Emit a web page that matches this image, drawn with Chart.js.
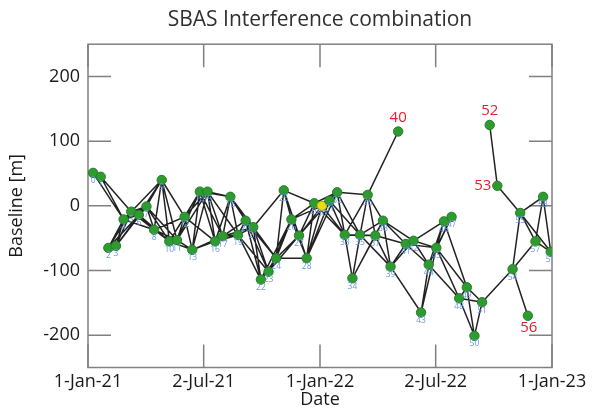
<!DOCTYPE html>
<html>
<head>
<meta charset="utf-8">
<script src="https://cdn.jsdelivr.net/npm/chart.js@4.4.1/dist/chart.umd.min.js"></script>
<style>
html,body{margin:0;padding:0;background:#fff;}
canvas{display:block;}
</style>
</head>
<body>
<canvas id="c" width="592" height="410"></canvas>
<script>
// Acquisition dates, as days since 1-Jan-2021
const acqDay = [8,20,32,44,56,68,80,92,104,116,128,140,152,164,176,188,200,212,224,236,
                248,260,272,284,296,308,320,332,344,356,368,380,392,404,416,428,440,452,464,476,
                488,500,512,524,536,548,560,572,584,596,608,620,632,644,668,680,692,704,716,728];
// Perpendicular baseline of each acquisition [m]
const baseline = [51,45,-65,-62,-21,-9,-14,-1,-37,40,
                  -55,-53,-17,-68,22,22,-55,-47,14,-45,
                  -23,-33,-114,-102,-81,24,-21,-46,-81,4,
                  0,8,21,-45,-112,-45,17,-46,-23,-94,
                  115,-59,-54,-165,-91,-65,-24,-17,-143,-126,
                  -201,-149,125,31,-98,-11,-170,-55,14,-71];
const masterIdx = 30;
const redIdx = [40, 52, 53, 56];
const redLabelPos = ['top', 'top', 'left', 'bottom'];
const redLinks = [[36,40],[52,53],[53,55],[54,56]];
const maxGapDays = 48;
const maxBaseDiff = 105;
const yTicks = [-200, -100, 0, 100, 200];
const xTickDays = [0, 182, 365, 547, 730];
const xTickLabels = ['1-Jan-21', '2-Jul-21', '1-Jan-22', '2-Jul-22', '1-Jan-23'];

// Interferogram pairs (temporal / baseline thresholds of the network)
const links = [];
for (let i = 0; i < acqDay.length; i++) {
  for (let j = i + 1; j < acqDay.length; j++) {
    if (redIdx.includes(i) || redIdx.includes(j)) continue;
    if (acqDay[j] - acqDay[i] <= maxGapDays && Math.abs(baseline[j] - baseline[i]) <= maxBaseDiff) links.push([i, j]);
  }
}
redLinks.forEach(l => links.push(l));

const linkData = [];
links.forEach(([a, b]) => {
  linkData.push({x: acqDay[a], y: baseline[a]}, {x: acqDay[b], y: baseline[b]}, {x: acqDay[b], y: null});
});
const pointData = acqDay.map((d, i) => ({x: d, y: baseline[i]}));

const FONT = "'Open Sans', 'Noto Sans', sans-serif";
Chart.defaults.font.family = FONT;

const TICK_LEN = 23;
const framePlugin = {
  id: 'frame',
  beforeDatasetsDraw(chart) {
    const {ctx, chartArea: a, scales: {x, y}} = chart;
    ctx.save();
    ctx.strokeStyle = '#808080';
    ctx.lineWidth = 1.5;
    ctx.strokeRect(a.left, a.top, a.right - a.left, a.bottom - a.top);
    ctx.beginPath();
    y.ticks.forEach(t => {
      const py = y.getPixelForValue(t.value);
      ctx.moveTo(a.left, py); ctx.lineTo(a.left + TICK_LEN, py);
      ctx.moveTo(a.right, py); ctx.lineTo(a.right - TICK_LEN, py);
    });
    x.ticks.forEach(t => {
      const px = x.getPixelForValue(t.value);
      ctx.moveTo(px, a.top); ctx.lineTo(px, a.top + TICK_LEN);
      ctx.moveTo(px, a.bottom); ctx.lineTo(px, a.bottom - TICK_LEN);
    });
    ctx.stroke();
    ctx.restore();
  }
};

const labelPlugin = {
  id: 'ptLabels',
  afterDatasetsDraw(chart) {
    const {ctx, chartArea: a} = chart;
    const meta = chart.getDatasetMeta(1);
    ctx.save();
    ctx.beginPath();
    ctx.rect(a.left, a.top, a.right - a.left, a.bottom - a.top);
    ctx.clip();
    meta.data.forEach((el, i) => {
      const r = redIdx.indexOf(i);
      if (r >= 0) {
        ctx.fillStyle = '#e8202a';
        ctx.font = "15px " + FONT;
        const pos = redLabelPos[r];
        ctx.textBaseline = 'middle';
        if (pos === 'top') { ctx.textAlign = 'center'; ctx.fillText(String(i), el.x, el.y - 14); }
        else if (pos === 'bottom') { ctx.textAlign = 'center'; ctx.fillText(String(i), el.x + 1, el.y + 12); }
        else { ctx.textAlign = 'right'; ctx.fillText(String(i), el.x - 6, el.y); }
      } else {
        ctx.fillStyle = '#6a9ae6';
        ctx.font = "8.5px " + FONT;
        ctx.textAlign = 'center';
        ctx.textBaseline = 'middle';
        ctx.fillText(String(i), el.x, el.y + 8);
      }
    });
    ctx.restore();
  }
};

new Chart(document.getElementById('c'), {
  type: 'scatter',
  data: {
    datasets: [
      {
        data: linkData,
        showLine: true,
        spanGaps: false,
        borderColor: 'rgba(15,15,15,0.92)',
        borderWidth: 1.5,
        pointRadius: 0,
        pointHoverRadius: 0,
        order: 2
      },
      {
        data: pointData,
        pointRadius: 4.7,
        pointBackgroundColor: acqDay.map((d, i) => i === masterIdx ? '#e8e000' : '#2f9a2f'),
        pointBorderColor: acqDay.map((d, i) => i === masterIdx ? '#c0b000' : '#23802a'),
        pointBorderWidth: 1,
        order: 1
      }
    ]
  },
  options: {
    responsive: false,
    animation: false,
    devicePixelRatio: 1,
    layout: {padding: 0},
    plugins: {
      legend: {display: false},
      tooltip: {enabled: false},
      title: {
        display: true,
        fullSize: false,
        text: 'SBAS Interference combination',
        color: '#303030',
        font: {size: 21, weight: 'normal'},
        padding: {top: 7, bottom: 12}
      }
    },
    scales: {
      x: {
        type: 'linear',
        min: 0,
        max: 730,
        afterBuildTicks: s => { s.ticks = xTickDays.map(v => ({value: v})); },
        afterFit: s => { s.height = 42.5; s.paddingLeft = 0; s.paddingRight = 40; },
        grid: {display: false, drawTicks: false},
        border: {display: false},
        ticks: {
          color: '#1a1a1a',
          font: {size: 18},
          padding: 4,
          maxRotation: 0,
          autoSkip: false,
          callback: v => { const k = xTickDays.indexOf(v); return k >= 0 ? xTickLabels[k] : ''; }
        },
        title: {display: true, text: 'Date', color: '#1a1a1a', font: {size: 18}, padding: {top: 0, bottom: -1}}
      },
      y: {
        type: 'linear',
        min: -250,
        max: 250,
        afterBuildTicks: s => { s.ticks = yTicks.map(v => ({value: v})); },
        afterFit: s => { s.width = 88; },
        grid: {display: false, drawTicks: false},
        border: {display: false},
        ticks: {color: '#1a1a1a', font: {size: 18}, padding: 8},
        title: {display: true, text: 'Baseline [m]', color: '#1a1a1a', font: {size: 18}, padding: {top: 6, bottom: 0}}
      }
    }
  },
  plugins: [framePlugin, labelPlugin]
});
</script>
</body>
</html>
